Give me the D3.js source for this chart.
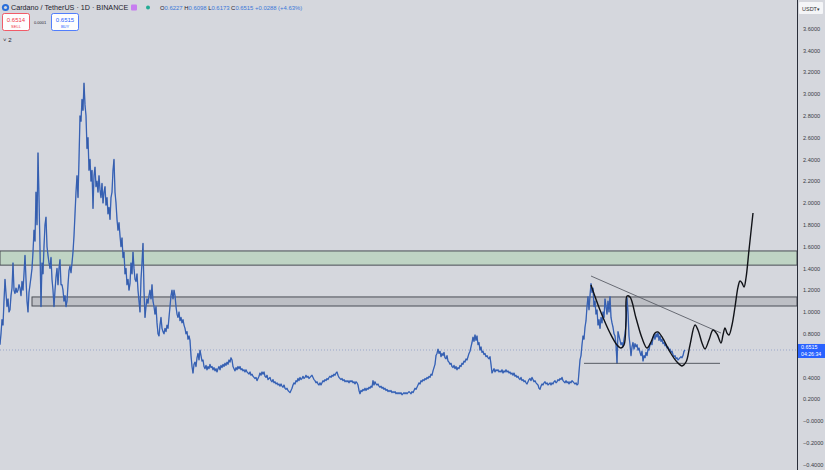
<!DOCTYPE html>
<html><head><meta charset="utf-8">
<script src="https://cdn.jsdelivr.net/npm/d3@7"></script>
<style>
html,body{margin:0;padding:0;background:#d5d7dd;}
svg{display:block;font-family:"Liberation Sans",Arial,sans-serif;}
</style></head>
<body><svg id="chart" width="825" height="470"></svg>
<script>
// ---- data ----
// ADA/USDT closes, one value every 2 days
const dayStep = 2;
const closes = [
0.70,0.80,0.93,0.88,1.10,1.30,1.17,1.05,1.12,1.00,
1.02,1.15,1.22,1.45,1.20,1.17,1.22,1.18,1.20,1.25,
1.22,1.15,1.28,1.20,1.35,1.52,1.30,1.10,1.00,1.18,
1.25,1.32,1.40,1.55,1.75,1.65,2.10,1.80,2.46,2.05,
1.58,1.05,1.45,1.35,1.60,1.80,1.87,1.60,1.52,1.45,
1.40,1.50,1.30,1.20,1.05,1.20,1.32,1.40,1.25,1.40,
1.48,1.25,1.25,1.20,1.10,1.15,1.05,1.10,1.25,1.38,
1.42,1.36,1.45,1.55,1.70,1.90,2.10,2.25,2.05,2.40,
2.80,2.75,2.95,2.85,3.10,2.90,2.80,2.50,2.60,2.30,
2.40,2.20,2.30,1.95,2.25,2.33,2.15,2.20,2.10,2.25,
2.12,2.05,2.18,2.00,2.10,2.15,1.98,2.05,1.90,1.96,
1.85,2.05,2.10,2.30,2.40,2.10,2.00,1.85,1.75,1.82,
1.70,1.60,1.68,1.50,1.55,1.35,1.40,1.25,1.30,1.20,
1.26,1.45,1.35,1.55,1.40,1.30,1.28,1.35,1.20,1.10,
1.00,1.30,1.45,1.63,1.20,0.95,1.05,1.12,1.08,1.15,
1.20,1.12,1.25,1.10,1.05,0.98,1.05,0.90,0.80,0.78,
0.88,0.95,0.85,0.82,0.80,0.85,0.82,0.88,0.85,0.95,
1.05,1.15,1.20,1.12,1.20,1.15,1.05,0.98,0.95,1.00,
0.92,0.95,0.90,0.93,0.88,0.85,0.80,0.82,0.75,0.78,
0.74,0.60,0.50,0.44,0.52,0.54,0.50,0.58,0.62,0.56,
0.65,0.60,0.55,0.56,0.50,0.48,0.51,0.47,0.50,0.48,
0.52,0.49,0.50,0.47,0.49,0.46,0.48,0.45,0.48,0.50,
0.47,0.51,0.49,0.52,0.50,0.53,0.51,0.54,0.52,0.56,
0.54,0.58,0.56,0.50,0.48,0.46,0.49,0.47,0.50,0.48,
0.50,0.47,0.48,0.46,0.47,0.45,0.47,0.45,0.44,0.43,
0.45,0.42,0.43,0.41,0.40,0.39,0.40,0.37,0.39,0.41,
0.44,0.42,0.45,0.43,0.45,0.41,0.40,0.42,0.38,0.39,
0.40,0.37,0.36,0.38,0.35,0.36,0.34,0.35,0.33,0.34,
0.32,0.34,0.32,0.31,0.33,0.30,0.29,0.30,0.28,0.27,
0.26,0.28,0.30,0.33,0.35,0.34,0.37,0.36,0.39,0.37,
0.40,0.38,0.39,0.41,0.39,0.40,0.42,0.40,0.41,0.39,
0.40,0.41,0.42,0.40,0.38,0.37,0.35,0.36,0.34,0.33,
0.35,0.33,0.35,0.37,0.36,0.38,0.37,0.39,0.38,0.40,
0.41,0.40,0.42,0.41,0.43,0.42,0.44,0.45,0.42,0.40,
0.39,0.38,0.39,0.37,0.38,0.36,0.37,0.36,0.37,0.35,
0.37,0.36,0.37,0.35,0.36,0.34,0.36,0.35,0.33,0.28,
0.25,0.28,0.27,0.29,0.28,0.30,0.28,0.30,0.29,0.31,
0.30,0.32,0.31,0.37,0.33,0.36,0.34,0.33,0.34,0.32,
0.31,0.32,0.30,0.31,0.29,0.30,0.28,0.29,0.27,0.28,
0.27,0.28,0.26,0.27,0.26,0.27,0.25,0.26,0.25,0.26,
0.25,0.26,0.24,0.25,0.26,0.25,0.26,0.25,0.26,0.27,
0.26,0.25,0.27,0.26,0.28,0.30,0.29,0.31,0.33,0.35,
0.34,0.37,0.36,0.38,0.37,0.39,0.38,0.40,0.39,0.41,
0.40,0.43,0.42,0.46,0.49,0.52,0.60,0.62,0.66,0.62,
0.64,0.59,0.62,0.60,0.63,0.58,0.57,0.60,0.55,0.54,
0.52,0.53,0.50,0.49,0.51,0.48,0.50,0.47,0.49,0.48,
0.51,0.50,0.53,0.52,0.55,0.54,0.57,0.56,0.59,0.62,
0.64,0.68,0.72,0.77,0.73,0.79,0.74,0.78,0.70,0.72,
0.65,0.68,0.63,0.64,0.61,0.62,0.59,0.60,0.58,0.57,
0.59,0.52,0.44,0.46,0.48,0.45,0.47,0.46,0.47,0.45,
0.46,0.45,0.47,0.44,0.46,0.45,0.47,0.45,0.46,0.44,
0.45,0.43,0.44,0.42,0.44,0.41,0.42,0.40,0.41,0.39,
0.38,0.40,0.37,0.38,0.36,0.37,0.35,0.34,0.36,0.38,
0.39,0.37,0.40,0.38,0.36,0.37,0.35,0.34,0.33,0.30,
0.29,0.32,0.34,0.33,0.35,0.36,0.34,0.35,0.33,0.34,
0.35,0.33,0.35,0.34,0.36,0.37,0.35,0.36,0.38,0.37,
0.39,0.38,0.40,0.37,0.36,0.35,0.37,0.35,0.36,0.34,
0.36,0.35,0.37,0.36,0.35,0.34,0.35,0.33,0.34,0.45,
0.56,0.60,0.70,0.78,0.75,0.86,0.92,1.05,1.14,1.02,
1.15,1.26,1.18,1.22,1.05,1.10,0.98,1.02,0.88,0.93,
0.85,0.95,0.90,1.00,0.95,1.12,1.05,0.98,1.10,1.00,
1.14,0.95,0.90,0.86,0.80,0.78,0.70,0.53,0.82,0.78,
0.74,0.70,0.72,0.68,0.75,0.80,0.88,1.13,1.00,0.78,
0.70,0.60,0.68,0.72,0.66,0.71,0.68,0.70,0.65,0.67,
0.63,0.60,0.64,0.55,0.60,0.58,0.63,0.60,0.66,0.65,
0.70,0.72,0.70,0.76,0.79,0.75,0.80,0.77,0.81,0.74,
0.78,0.73,0.75,0.71,0.72,0.69,0.70,0.67,0.68,0.65,
0.66,0.63,0.64,0.61,0.59,0.60,0.57,0.58,0.56,0.57,
0.58,0.59,0.58,0.60,0.64,0.6515];

// hand-drawn projection path (day offset, price)
const projDays = [1182,1200,1220,1234,1242,1248,1252,1254,1260,1272,1284,1294,1302,1310,1316,1324,1340,1354,1364,1372,1380,1390,1396,1404,1410,1418,1426,1434,1442,1446,1450,1454,1458,1464,1470,1476,1480,1484,1488,1492,1498,1506];
const projValues = [1.248,1.018,0.807,0.697,0.670,0.697,0.927,1.147,1.138,0.945,0.761,0.670,0.725,0.807,0.817,0.771,0.633,0.541,0.505,0.541,0.697,0.881,0.835,0.716,0.661,0.743,0.835,0.798,0.716,0.789,0.853,0.807,0.789,0.881,1.046,1.229,1.284,1.266,1.229,1.312,1.569,1.908];

// drawn levels
const trendDays = [1182,1442], trendValues = [1.330,0.807];
const supportDays = [1168,1440], supportValues = [0.529,0.529];
const greenZone = {fromDay:0, low:1.43, high:1.56};
const grayZone = {fromDay:64, low:1.055, high:1.138};
const lastPrice = 0.6515;

const tickValues = [3.6,3.4,3.2,3.0,2.8,2.6,2.4,2.2,2.0,1.8,1.6,1.4,1.2,1.0,0.8,0.4,0.2,0,-0.2,-0.4];
const tickLabels = ["3.6000","3.4000","3.2000","3.0000","2.8000","2.6000","2.4000","2.2000","2.0000","1.8000","1.6000","1.4000","1.2000","1.0000","0.8000","0.4000","0.2000","\u22120.0000","\u22120.2000","\u22120.4000"];

// ---- drawing ----
const W = 825, H = 470, plotR = 797;
const svg = d3.select("#chart");
const x = d3.scaleLinear().domain([0,1594]).range([0,plotR]);
const y = d3.scaleLinear().domain([-0.4,3.6]).range([464.6,28.6]);

svg.append("rect").attr("width",W).attr("height",H).attr("fill","#d5d7dd");

const plot = svg.append("g");
function zone(z, fill){
  plot.append("rect").attr("x",x(z.fromDay)).attr("y",y(z.high))
    .attr("width",plotR - x(z.fromDay)).attr("height",y(z.low)-y(z.high))
    .attr("fill",fill).attr("stroke","#4a4d55").attr("stroke-width",1);
}
zone(greenZone,"#bfd4c4");
zone(grayZone,"#bdbfc5");

plot.append("line").attr("x1",0).attr("x2",plotR).attr("y1",y(lastPrice)).attr("y2",y(lastPrice))
  .attr("stroke","#8b9bc4").attr("stroke-width",0.8).attr("stroke-dasharray","1,2");

const pts = closes.map((v,i)=>[i*dayStep, v]);
const line = d3.line().x(d=>x(d[0])).y(d=>y(d[1]));
plot.append("path").attr("d",line(pts)).attr("fill","none")
  .attr("stroke","#3e6fcc").attr("stroke-width",1.3).attr("stroke-linejoin","round");
plot.append("path").attr("d",line(pts)).attr("fill","none")
  .attr("stroke","#22345c").attr("stroke-width",0.5).attr("opacity",0.5);

const pairs = (ds,vs)=>ds.map((d,i)=>[d,vs[i]]);
plot.append("path").attr("d",line(pairs(trendDays,trendValues))).attr("stroke","#5a5d66").attr("stroke-width",0.9).attr("fill","none");
plot.append("path").attr("d",line(pairs(supportDays,supportValues))).attr("stroke","#4a4d55").attr("stroke-width",0.9).attr("fill","none");

plot.append("path").attr("d",d3.line().x(d=>x(d[0])).y(d=>y(d[1])).curve(d3.curveCatmullRom.alpha(0.5))(pairs(projDays,projValues)))
  .attr("fill","none").attr("stroke","#111318").attr("stroke-width",1.4);

// right axis
const ax = svg.append("g");
ax.append("line").attr("x1",plotR+0.5).attr("x2",plotR+0.5).attr("y1",0).attr("y2",H).attr("stroke","#2a2e39").attr("stroke-width",1);
const axis = d3.axisRight(y).tickValues(tickValues).tickSize(0).tickPadding(0)
  .tickFormat((d,i)=>tickLabels[i]);
const g = ax.append("g").attr("transform",`translate(${plotR+6},0)`).call(axis);
g.select(".domain").remove();
g.selectAll("text").attr("font-size",5.6).attr("fill","#3a3d45").attr("font-family","Liberation Sans, Arial");

ax.append("rect").attr("x",799).attr("y",2).attr("width",24).attr("height",12).attr("fill","#f4f5f7").attr("rx",1);
ax.append("text").attr("x",802).attr("y",10.5).attr("font-size",5.5).attr("fill","#333").text("USDT");
ax.append("text").attr("x",817).attr("y",10.5).attr("font-size",5).attr("fill","#333").text("\u25BE");

const lp = y(lastPrice);
ax.append("rect").attr("x",plotR+1).attr("y",lp-6).attr("width",W-plotR-1).attr("height",14).attr("fill","#2962ff");
ax.append("text").attr("x",plotR+4).attr("y",lp-0.5).attr("font-size",5.4).attr("fill","#fff").text(d3.format(".4f")(lastPrice));
ax.append("text").attr("x",plotR+4).attr("y",lp+6).attr("font-size",5.2).attr("fill","#fff").text("04:26:34");

// header
const hd = svg.append("g");
hd.append("circle").attr("cx",5.5).attr("cy",7.5).attr("r",3.6).attr("fill","#2a6fdb");
hd.append("circle").attr("cx",5.5).attr("cy",7.5).attr("r",1.6).attr("fill","#d5d7dd");
hd.append("text").attr("x",11).attr("y",10).attr("font-size",7.2).attr("fill","#1e222d").text("Cardano / TetherUS \u00B7 1D \u00B7 BINANCE");
hd.append("rect").attr("x",131).attr("y",4.5).attr("width",6).attr("height",6).attr("fill","#c77df0").attr("rx",1);
hd.append("circle").attr("cx",148).attr("cy",7.5).attr("r",2).attr("fill","#22ab94");
const ohlc = [["O","0.6227"],["H","0.6098"],["L","0.6173"],["C","0.6515"]];
const t = hd.append("text").attr("x",160).attr("y",10).attr("font-size",5.9);
ohlc.forEach(([k,v])=>{ t.append("tspan").attr("fill","#1e222d").text(k); t.append("tspan").attr("fill","#3c78d8").text(v+" "); });
t.append("tspan").attr("fill","#3c78d8").text("+0.0288 (+4.63%)");

hd.append("rect").attr("x",2.5).attr("y",13.5).attr("width",27).attr("height",17).attr("fill","#fdfdfd").attr("stroke","#f23645").attr("stroke-width",0.8).attr("rx",2);
hd.append("text").attr("x",16).attr("y",21.5).attr("text-anchor","middle").attr("font-size",6).attr("fill","#f23645").text("0.6514");
hd.append("text").attr("x",16).attr("y",28).attr("text-anchor","middle").attr("font-size",4).attr("fill","#f23645").text("SELL");
hd.append("text").attr("x",40).attr("y",23.5).attr("text-anchor","middle").attr("font-size",4).attr("fill","#1e222d").text("0.0001");
hd.append("rect").attr("x",51.5).attr("y",13.5).attr("width",27).attr("height",17).attr("fill","#fdfdfd").attr("stroke","#2962ff").attr("stroke-width",0.8).attr("rx",2);
hd.append("text").attr("x",65).attr("y",21.5).attr("text-anchor","middle").attr("font-size",6).attr("fill","#2962ff").text("0.6515");
hd.append("text").attr("x",65).attr("y",28).attr("text-anchor","middle").attr("font-size",4).attr("fill","#2962ff").text("BUY");
hd.append("text").attr("x",3).attr("y",42).attr("font-size",6).attr("fill","#1e222d").text("\u02C5 2");
</script></body></html>
